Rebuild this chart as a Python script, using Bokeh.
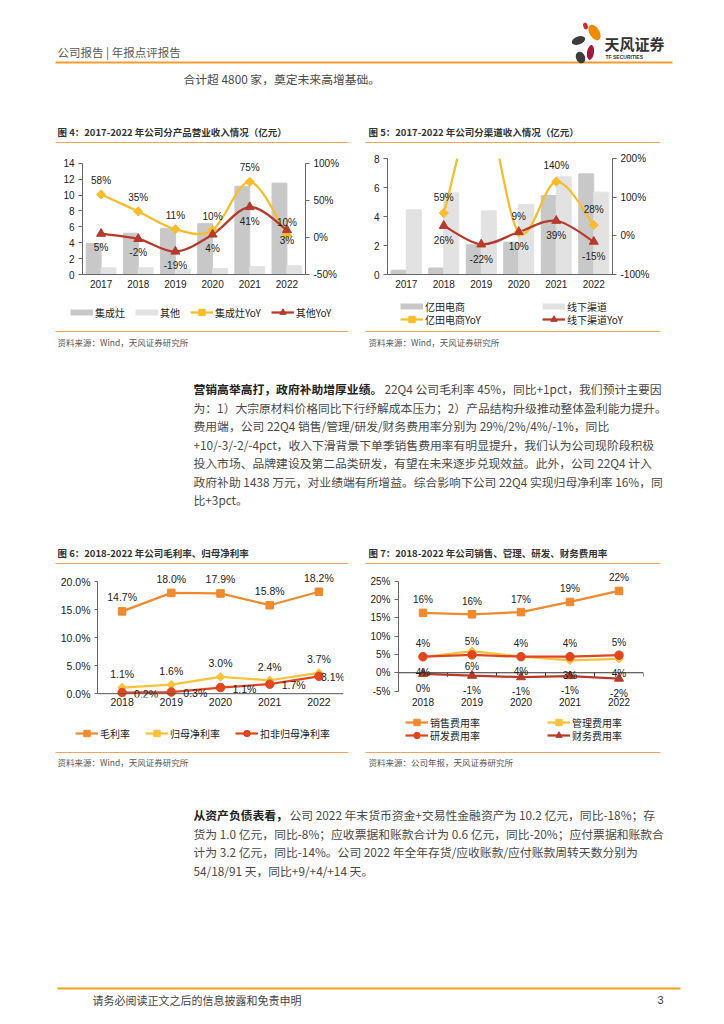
import numpy as np
from bokeh.plotting import figure
from bokeh.models import (Range1d, LinearAxis, FixedTicker, PrintfTickFormatter, Legend,
                          LegendItem, ColumnDataSource, LabelSet, Spacer, Span)
from bokeh.layouts import column, row
from bokeh.embed import file_html
from bokeh.resources import INLINE
from bokeh.core.properties import value

# ---------------- data ----------------
years_a = ["2017", "2018", "2019", "2020", "2021", "2022"]
stove_rev = [3.9, 5.2, 5.8, 6.4, 11.1, 11.5]          # 集成灶 (亿元)
other_rev = [0.85, 0.85, 0.7, 0.75, 1.0, 1.1]          # 其他 (亿元)
stove_yoy = [58, 35, 11, 10, 75, 3]                    # 集成灶YoY %
other_yoy = [5, -2, -19, 4, 41, 10]                    # 其他YoY %

ecom_rev = [0.3, 0.45, 2.05, 2.23, 5.45, 6.94]         # 亿田电商 (亿元)
offline_rev = [4.46, 5.63, 4.39, 4.83, 6.74, 5.68]     # 线下渠道 (亿元)
ecom_yoy = [None, 59, 355, 9, 140, 28]                 # 亿田电商YoY %
offline_yoy = [None, 26, -22, 10, 39, -15]             # 线下渠道YoY %

years_b = ["2018", "2019", "2020", "2021", "2022"]
gross_margin = [14.7, 18.0, 17.9, 15.8, 18.2]          # 毛利率 %
net_margin = [1.1, 1.6, 3.0, 2.4, 3.7]                 # 归母净利率 %
adj_net_margin = [0.2, 0.3, 1.1, 1.7, 3.1]             # 扣非归母净利率 %

sales_rate = [16.4, 16.0, 16.6, 19.4, 22.4]            # 销售费用率 %
admin_rate = [4.3, 5.9, 4.4, 3.4, 3.8]                 # 管理费用率 %
rd_rate = [4.4, 4.9, 4.4, 4.4, 4.8]                    # 研发费用率 %
fin_rate = [-0.3, -0.8, -1.2, -0.9, -1.6]              # 财务费用率 %

# ---------------- styles ----------------
GREY_D = "#c8c8c8"
GREY_L = "#e2e2e2"
YEL = "#f9bd2c"
DRED = "#b73a2c"
ORG = "#f08a2e"
RED = "#e2461f"
YEL2 = "#f9c23c"
LINE_ORG = "#f2a35e"
CJK = "Noto Sans CJK SC"
NUM = "Liberation Sans"
BODY = "#4a4a4a"
BODY_SIZE = "11.8px"


def smooth(xs, ys):
    """Bezier control points (Catmull-Rom style) for an Excel-like smoothed line."""
    n = len(xs)
    d = dict(x0=[], y0=[], x1=[], y1=[], cx0=[], cy0=[], cx1=[], cy1=[])
    for i in range(n - 1):
        xp, yp = (xs[i - 1], ys[i - 1]) if i > 0 else (xs[i], ys[i])
        xn, yn = (xs[i + 2], ys[i + 2]) if i + 2 < n else (xs[i + 1], ys[i + 1])
        d["x0"].append(xs[i]); d["y0"].append(ys[i])
        d["x1"].append(xs[i + 1]); d["y1"].append(ys[i + 1])
        d["cx0"].append(xs[i] + (xs[i + 1] - xp) / 6.0)
        d["cy0"].append(ys[i] + (ys[i + 1] - yp) / 6.0)
        d["cx1"].append(xs[i + 1] - (xn - xs[i]) / 6.0)
        d["cy1"].append(ys[i + 1] - (yn - ys[i]) / 6.0)
    return d


def style_axis(ax, size="10px", tick=True, standoff=4):
    ax.axis_line_color = "#666666"
    ax.major_tick_line_color = "#666666" if tick else None
    ax.minor_tick_line_color = None
    ax.major_tick_in = 0
    ax.major_tick_out = 4 if tick else 0
    ax.major_label_text_font = NUM
    ax.major_label_text_font_size = size
    ax.major_label_text_color = "#222222"
    ax.major_label_standoff = standoff


def chart(width, height, xr, yr, ml, mr, mt, mb):
    p = figure(width=width, height=height, x_range=xr, y_range=yr,
               min_border_left=ml, min_border_right=mr, min_border_top=mt, min_border_bottom=mb,
               output_backend="svg", toolbar_location=None)
    p.grid.visible = False
    p.outline_line_color = None
    p.background_fill_color = "white"
    p.border_fill_color = "white"
    return p


def labels(p, xs, ys, texts, dy, dx=0, align="center", yrange="default", size="10px", lo=None, hi=None):
    keep = [i for i in range(len(xs)) if ys[i] is not None and (lo is None or lo <= ys[i] <= hi)]
    pick = lambda v, i: v[i] if isinstance(v, list) else v
    src = ColumnDataSource(dict(x=[xs[i] for i in keep], y=[ys[i] for i in keep],
                                t=[texts[i] for i in keep],
                                dy=[pick(dy, i) for i in keep], dx=[pick(dx, i) for i in keep]))
    ls = LabelSet(x="x", y="y", text="t", source=src, y_offset="dy", x_offset="dx",
                  text_font=value(NUM), text_font_size=size, text_color="#222222",
                  text_align=align, text_baseline="middle", y_range_name=yrange)
    p.add_layout(ls)


def x_ticks(p, cats, standoff=5, size="10px"):
    p.xaxis.ticker = FixedTicker(ticks=list(range(len(cats))))
    p.xaxis.major_label_overrides = {i: c for i, c in enumerate(cats)}
    style_axis(p.xaxis[0], size=size, tick=False, standoff=standoff)


# ---------------- chart 4 ----------------
xa = list(range(len(years_a)))
top4 = 14.6                                  # a little head-room above the 14 tick for labels
p4 = chart(290, 146, Range1d(-0.5, 5.5), Range1d(0, top4), 25, 42, 3, 22)
p4.extra_y_ranges = {"yoy": Range1d(-50, -50 + 150 * top4 / 14)}
p4.vbar(x=[v - 0.2 for v in xa], top=stove_rev, width=0.4, color=GREY_D)
p4.vbar(x=[v + 0.2 for v in xa], top=other_rev, width=0.4, color=GREY_L)
p4.bezier(**smooth(xa, stove_yoy), line_color=YEL, line_width=2.25, y_range_name="yoy")
p4.bezier(**smooth(xa, other_yoy), line_color=DRED, line_width=2.25, y_range_name="yoy")
p4.scatter(xa, stove_yoy, marker="square", angle=np.pi / 4, size=6.5, color=YEL, y_range_name="yoy")
p4.scatter(xa, other_yoy, marker="triangle", size=9, color=DRED, y_range_name="yoy")
labels(p4, xa, stove_yoy, [f"{v}%" for v in stove_yoy], [14, 14, 14, 14, 14, -5], yrange="yoy")
labels(p4, xa, other_yoy, [f"{v}%" for v in other_yoy], [-14, -14, -14, -14, -14, 8], yrange="yoy")
p4.yaxis.ticker = FixedTicker(ticks=[0, 2, 4, 6, 8, 10, 12, 14])
style_axis(p4.yaxis[0])
p4.yaxis.bounds = (0, 14)
ax4r = LinearAxis(y_range_name="yoy", ticker=FixedTicker(ticks=[-50, 0, 50, 100]),
                  formatter=PrintfTickFormatter(format="%d%%"), bounds=(-50, 100))
style_axis(ax4r)
p4.add_layout(ax4r, "right")
x_ticks(p4, years_a)

# ---------------- chart 5 ----------------
p5 = chart(295, 146, Range1d(-0.5, 5.5), Range1d(0, 8), 22, 48, 8, 22)
p5.extra_y_ranges = {"yoy": Range1d(-100, 200)}
p5.vbar(x=[v - 0.2 for v in xa], top=ecom_rev, width=0.4, color=GREY_D)
p5.vbar(x=[v + 0.2 for v in xa], top=offline_rev, width=0.4, color=GREY_L)
xe = [xa[i] for i in range(len(xa)) if ecom_yoy[i] is not None]
ye = [v for v in ecom_yoy if v is not None]
xo = [xa[i] for i in range(len(xa)) if offline_yoy[i] is not None]
yo = [v for v in offline_yoy if v is not None]
p5.bezier(**smooth(xe, ye), line_color=YEL, line_width=2.25, y_range_name="yoy")
p5.bezier(**smooth(xo, yo), line_color=DRED, line_width=2.25, y_range_name="yoy")
p5.scatter(xe, ye, marker="square", angle=np.pi / 4, size=6.5, color=YEL, y_range_name="yoy")
p5.scatter(xo, yo, marker="triangle", size=9, color=DRED, y_range_name="yoy")
labels(p5, xe, ye, [f"{v}%" for v in ye], 16, yrange="yoy", lo=-100, hi=200)
labels(p5, xo, yo, [f"{v}%" for v in yo], -15, yrange="yoy", lo=-100, hi=200)
p5.yaxis.ticker = FixedTicker(ticks=[0, 2, 4, 6, 8])
style_axis(p5.yaxis[0])
ax5r = LinearAxis(y_range_name="yoy", ticker=FixedTicker(ticks=[-100, 0, 100, 200]),
                  formatter=PrintfTickFormatter(format="%d%%"))
style_axis(ax5r)
p5.add_layout(ax5r, "right")
x_ticks(p5, years_a)

# ---------------- chart 6 ----------------
xb = list(range(len(years_b)))
p6 = chart(290, 148, Range1d(-0.5, 4.5), Range1d(-0.68, 22), 38, 4, 1, 14)
p6.add_layout(Span(location=0, dimension="width", line_color="#555555", line_width=1))
p6.line(xb, gross_margin, line_color=ORG, line_width=2.25)
p6.line(xb, net_margin, line_color=YEL2, line_width=2.25)
p6.line(xb, adj_net_margin, line_color=RED, line_width=2.25)
p6.scatter(xb, gross_margin, marker="square", size=7.5, color=ORG)
p6.scatter(xb, net_margin, marker="square", angle=np.pi / 4, size=6, color=YEL2)
p6.scatter(xb, adj_net_margin, marker="circle", size=8.5, color=RED)
labels(p6, xb, gross_margin, [f"{v:.1f}%" for v in gross_margin], 14, size="10.5px")
labels(p6, xb, net_margin, [f"{v:.1f}%" for v in net_margin], 13.5, size="10.5px")
labels(p6, xb, adj_net_margin, [f"{v:.1f}%" for v in adj_net_margin], -1,
       dx=[12, 12, 12, 12, 2], align="left", size="10.5px")
p6.yaxis.ticker = FixedTicker(ticks=[0, 5, 10, 15, 20])
p6.yaxis.formatter = PrintfTickFormatter(format="%.1f%%")
style_axis(p6.yaxis[0], size="10.5px")
p6.yaxis.major_tick_out = 3
p6.yaxis.bounds = (0, 20)
x_ticks(p6, years_b, standoff=0, size="10.5px")
p6.xaxis[0].axis_line_color = None

# ---------------- chart 7 ----------------
p7 = chart(295, 148, Range1d(-0.5, 4.5), Range1d(-6.78, 28), 33, 17, 4, 17)
p7.add_layout(Span(location=0, dimension="width", line_color="#333333", line_width=1))
bounds = [i - 0.5 for i in range(len(years_b) + 1)]
tick_len = 4 * 34.78 / 127.0   # 4 px expressed in % units of this frame
p7.segment(x0=bounds, y0=[0] * len(bounds), x1=bounds, y1=[-tick_len] * len(bounds),
           line_color="#333333", line_width=1)
p7.line(xb, sales_rate, line_color=ORG, line_width=2.25)
p7.line(xb, admin_rate, line_color=YEL2, line_width=2.25)
p7.line(xb, rd_rate, line_color=RED, line_width=2.25)
p7.line(xb, fin_rate, line_color=DRED, line_width=2.25)
p7.scatter(xb, sales_rate, marker="square", size=7.5, color=ORG)
p7.scatter(xb, admin_rate, marker="square", angle=np.pi / 4, size=6, color=YEL2)
p7.scatter(xb, rd_rate, marker="circle", size=8.5, color=RED)
p7.scatter(xb, fin_rate, marker="triangle", size=9, color=DRED)
pct0 = lambda vs: [f"{int(round(v))}%" for v in vs]
labels(p7, xb, sales_rate, pct0(sales_rate), 13)
labels(p7, xb, rd_rate, pct0(rd_rate), 13)
labels(p7, xb, admin_rate, pct0(admin_rate), -15)
labels(p7, xb, fin_rate, pct0(fin_rate), -14.5)
p7.yaxis.ticker = FixedTicker(ticks=[-5, 0, 5, 10, 15, 20, 25])
p7.yaxis.formatter = PrintfTickFormatter(format="%d%%")
style_axis(p7.yaxis[0])
p7.yaxis.bounds = (-5, 25)
x_ticks(p7, years_b, standoff=0)
p7.xaxis[0].axis_line_color = None

PAGE_W = 724


# ---------------- page decoration bands ----------------
def deco(y_top, y_bot):
    f = figure(width=PAGE_W, height=y_bot - y_top, x_range=Range1d(0, PAGE_W), y_range=Range1d(y_bot, y_top),
               x_axis_type=None, y_axis_type=None, output_backend="svg", toolbar_location=None,
               min_border=0, outline_line_color=None)
    f.grid.visible = False
    f.background_fill_color = "white"
    f.border_fill_color = "white"
    return f


def txt(f, x, y, s, size, color=BODY, bold=False, font=CJK, align="left"):
    f.text(x=[x], y=[y], text=[s], text_font=value(font), text_font_size=size, text_color=color,
           text_font_style="bold" if bold else "normal", text_baseline="middle", text_align=align)


def hline(f, x0, x1, y, color=LINE_ORG, w=1):
    f.segment(x0=[x0], y0=[y], x1=[x1], y1=[y], line_color=color, line_width=w)


OFF = [-500, -490]   # legend proxies live outside the visible range


def legend_at(f, entries, vx, vy, spacing, label_width=20):
    items = []
    for label, kind, color, marker in entries:
        rs = []
        if kind == "bar":
            rs.append(f.line(x=OFF, y=OFF, line_color=color, line_width=6))
        else:
            rs.append(f.line(x=OFF, y=OFF, line_color=color, line_width=2.25))
            if marker == "diamond":
                rs.append(f.scatter(x=OFF, y=OFF, marker="square", angle=np.pi / 4, size=6, color=color))
            else:
                rs.append(f.scatter(x=OFF, y=OFF, marker=marker, size=8, color=color))
        items.append(LegendItem(label=label, renderers=rs))
    lg = Legend(items=items, location=(vx, vy), orientation="horizontal", glyph_width=23,
                glyph_height=16, label_standoff=2, spacing=spacing, padding=0, margin=0,
                border_line_color=None, background_fill_alpha=0, label_text_font=CJK,
                label_text_font_size="10px", label_text_color="#222222", label_width=label_width)
    f.add_layout(lg)


# Band A: header and chart 4/5 titles (page y 0..150)
A0, A1 = 0, 150
fa = deco(A0, A1)
txt(fa, 57, 51, "公司报告 | 年报点评报告", "11.5px", color="#595959")
hline(fa, 55, 672, 62, color="#f39b2e", w=2)
fa.ellipse(x=[585, 594, 578, 590, 580], y=[25.5, 32, 40, 52, 57], width=[4.5, 10, 14, 7, 9],
           height=[7, 17, 8, 15, 12], angle=[0.3, 0.55, 0.35, -0.15, 0.4],
           fill_color=["#d42a2a", "#f08a00", "#3c3c3c", "#a3173c", "#3c3c3c"], line_color=None)
txt(fa, 604, 43, "天风证券", "15px", color="#333333", bold=True)
txt(fa, 605, 56.5, "TF SECURITIES", "5px", color="#333333", bold=True, font=NUM)
txt(fa, 183, 78, "合计超 4800 家，奠定未来高增基础。", BODY_SIZE)
txt(fa, 57, 131, "图 4：2017-2022 年公司分产品营业收入情况（亿元）", "9.5px", color="#333333", bold=True)
txt(fa, 368, 131, "图 5：2017-2022 年公司分渠道收入情况（亿元）", "9.5px", color="#333333", bold=True)
hline(fa, 55, 348, 142)
hline(fa, 365, 660, 142)

# Band C: legends 4/5, sources, paragraph, chart 6/7 titles (page y 296..566)
C0, C1 = 296, 566
fc = deco(C0, C1)
legend_at(fc, [("集成灶", "bar", GREY_D, None), ("其他", "bar", GREY_L, None),
               ("集成灶YoY", "line", YEL, "diamond"), ("其他YoY", "line", DRED, "triangle")],
          70, C1 - (312 + 8), 10)
legend_at(fc, [("亿田电商", "bar", GREY_D, None), ("线下渠道", "bar", GREY_L, None)],
          400, C1 - (306 + 8), 3, label_width=114)
legend_at(fc, [("亿田电商YoY", "line", YEL, "diamond"), ("线下渠道YoY", "line", DRED, "triangle")],
          400, C1 - (319 + 8), 3, label_width=114)
hline(fc, 55, 348, 331)
hline(fc, 365, 660, 331)
txt(fc, 57, 341, "资料来源：Wind，天风证券研究所", "8.5px", color="#555555")
txt(fc, 368, 341, "资料来源：Wind，天风证券研究所", "8.5px", color="#555555")
para2 = [
    "为：1）大宗原材料价格同比下行纾解成本压力；2）产品结构升级推动整体盈利能力提升。",
    "费用端，公司 22Q4 销售/管理/研发/财务费用率分别为 29%/2%/4%/-1%，同比",
    "+10/-3/-2/-4pct，收入下滑背景下单季销售费用率有明显提升，我们认为公司现阶段积极",
    "投入市场、品牌建设及第二品类研发，有望在未来逐步兑现效益。此外，公司 22Q4 计入",
    "政府补助 1438 万元，对业绩端有所增益。综合影响下公司 22Q4 实现归母净利率 16%，同",
    "比+3pct。",
]
y = 388
txt(fc, 193, y, "营销高举高打，政府补助增厚业绩。", BODY_SIZE, color="#222222", bold=True)
txt(fc, 384, y, "22Q4 公司毛利率 45%，同比+1pct，我们预计主要因", BODY_SIZE)
for line in para2:
    y += 18.5
    txt(fc, 193, y, line, BODY_SIZE)
txt(fc, 57, 552, "图 6：2018-2022 年公司毛利率、归母净利率", "9.5px", color="#333333", bold=True)
txt(fc, 368, 552, "图 7：2018-2022 年公司销售、管理、研发、财务费用率", "9.5px", color="#333333", bold=True)
hline(fc, 55, 348, 563)
hline(fc, 365, 660, 563)

# Band E: legends 6/7, sources, paragraph, footer (page y 714..1024)
E0, E1 = 714, 1024
fe = deco(E0, E1)
legend_at(fe, [("毛利率", "line", ORG, "square"), ("归母净利率", "line", YEL2, "diamond"),
               ("扣非归母净利率", "line", RED, "circle")],
          75, E1 - (733 + 8), 15)
legend_at(fe, [("销售费用率", "line", ORG, "square"), ("管理费用率", "line", YEL2, "diamond")],
          405, E1 - (722 + 8), 3, label_width=114)
legend_at(fe, [("研发费用率", "line", RED, "circle"), ("财务费用率", "line", DRED, "triangle")],
          405, E1 - (735 + 8), 3, label_width=114)
hline(fe, 55, 348, 752)
hline(fe, 365, 660, 752)
txt(fe, 57, 761, "资料来源：Wind，天风证券研究所", "8.5px", color="#555555")
txt(fe, 368, 761, "资料来源：公司年报，天风证券研究所", "8.5px", color="#555555")
para3 = [
    "货为 1.0 亿元，同比-8%；应收票据和账款合计为 0.6 亿元，同比-20%；应付票据和账款合",
    "计为 3.2 亿元，同比-14%。公司 2022 年全年存货/应收账款/应付账款周转天数分别为",
    "54/18/91 天，同比+9/+4/+14 天。",
]
y = 814
txt(fe, 193, y, "从资产负债表看，", BODY_SIZE, color="#222222", bold=True)
txt(fe, 289, y, "公司 2022 年末货币资金+交易性金融资产为 10.2 亿元，同比-18%；存", BODY_SIZE)
for line in para3:
    y += 18.5
    txt(fe, 193, y, line, BODY_SIZE)
hline(fe, 57, 680, 988, color="#f0a020", w=2)
txt(fe, 92, 999, "请务必阅读正文之后的信息披露和免责申明", "11px", color="#444444")
txt(fe, 663, 999, "3", "11px", color="#444444", font=NUM, align="right")

# ---------------- layout ----------------
rowB = row(Spacer(width=57, height=146), p4, Spacer(width=18, height=146), p5, Spacer(width=64, height=146))
rowD = row(Spacer(width=57, height=148), p6, Spacer(width=18, height=148), p7, Spacer(width=64, height=148))
page = column(fa, rowB, fc, rowD, fe)

open("out.html", "w").write(file_html(page, INLINE))
